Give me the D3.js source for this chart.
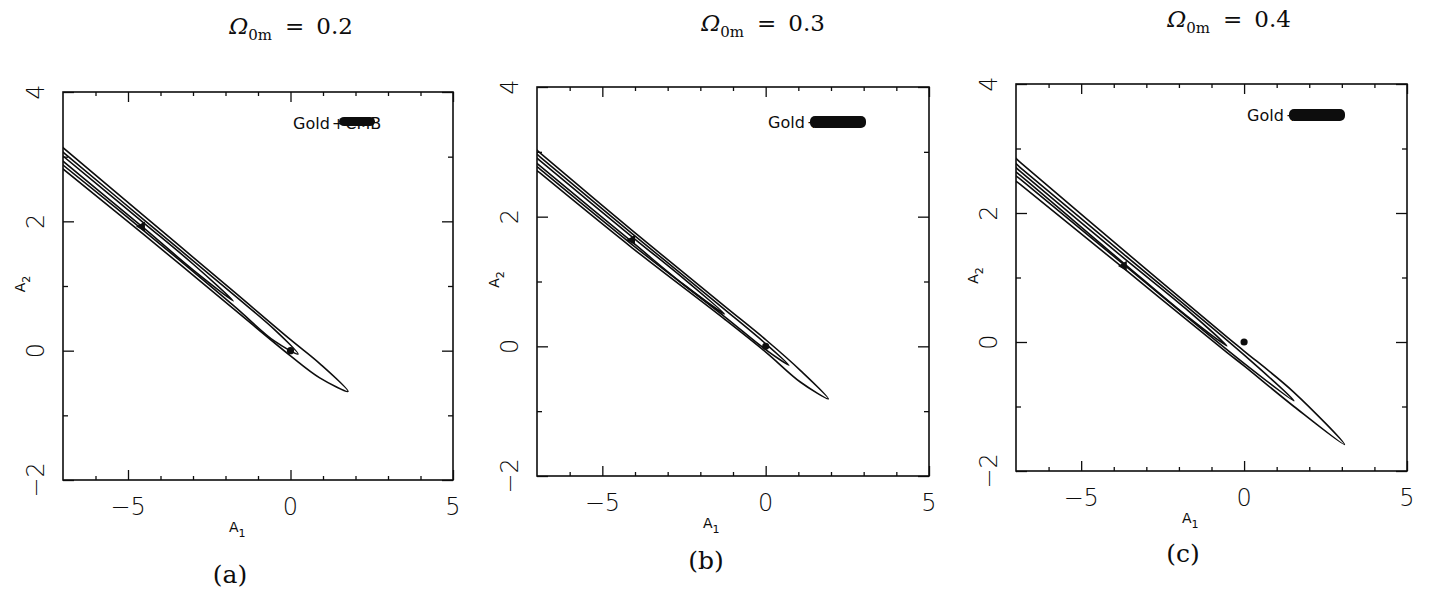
<!DOCTYPE html>
<html>
<head>
<meta charset="utf-8">
<script src="https://cdn.jsdelivr.net/npm/d3@7"></script>
<style>
  body { margin: 0; background: #fff; }
  svg { display: block; }
</style>
</head>
<body>
<svg id="chart" width="1429" height="591"></svg>
<script>
// ---- data ----
const panelIds = ['a', 'b', 'c'];
const omegaValues = ['0.2', '0.3', '0.4'];
const xMajorTicks = [-5, 0, 5];
const xMinorTicks = [-6, -4, -3, -2, -1, 1, 2, 3, 4];
const yMajorTicks = [-2, 0, 2, 4];
const yMinorTicks = [-1, 1, 3];

// contours: upper edge (left->right), tip, lower edge (right->left), in (A1, A2)
const contoursA = [
  { upper: [[-7.4, 3.31], [-7, 3.14], [-4.5, 2.08], [-1.76, 0.92], [0, 0.17], [0.9, -0.2]],
    tip: [1.77, -0.63],
    lower: [[0.9, -0.42], [0, -0.08], [-1.76, 0.65], [-4.5, 1.79], [-7, 2.81], [-7.4, 2.97]] },
  { upper: [[-7.4, 3.24], [-7, 3.07], [-4.5, 2.02], [-1.76, 0.87], [-0.5, 0.33]],
    tip: [0.23, -0.05],
    lower: [[-0.5, 0.15], [-1.76, 0.7], [-4.5, 1.85], [-7, 2.87], [-7.4, 3.03]] },
  { upper: [[-7.4, 3.18], [-7, 3.01], [-4.5, 1.97], [-3, 1.34]],
    tip: [-1.76, 0.77],
    lower: [[-3, 1.25], [-4.5, 1.89], [-7, 2.93], [-7.4, 3.1]] }
];
const contoursB = [
  { upper: [[-7.4, 3.19], [-6.9, 2.98], [-4.09, 1.79], [-1.26, 0.62], [0.03, 0.09], [1.06, -0.37]],
    tip: [1.92, -0.81],
    lower: [[1.06, -0.55], [0.03, -0.1], [-1.26, 0.42], [-4.09, 1.52], [-6.9, 2.67], [-7.4, 2.88]] },
  { upper: [[-7.4, 3.13], [-6.9, 2.92], [-4.09, 1.74], [-1.26, 0.57], [0, 0.04]],
    tip: [0.71, -0.29],
    lower: [[0, -0.05], [-1.26, 0.46], [-4.09, 1.57], [-6.9, 2.73], [-7.4, 2.94]] },
  { upper: [[-7.4, 3.07], [-6.9, 2.86], [-4.09, 1.69], [-2.5, 1.04]],
    tip: [-1.26, 0.5],
    lower: [[-2.5, 0.95], [-4.09, 1.61], [-6.9, 2.78], [-7.4, 2.99]] }
];
const contoursC = [
  { upper: [[-7.4, 3.01], [-6.86, 2.78], [-3.69, 1.42], [-0.53, 0.08], [0, -0.14], [1.53, -0.78]],
    tip: [3.08, -1.59],
    lower: [[1.53, -1.0], [0, -0.37], [-0.53, -0.16], [-3.69, 1.14], [-6.86, 2.44], [-7.4, 2.66]] },
  { upper: [[-7.4, 2.93], [-6.86, 2.7], [-3.69, 1.36], [0, -0.2]],
    tip: [1.53, -0.91],
    lower: [[0, -0.33], [-3.69, 1.2], [-6.86, 2.52], [-7.4, 2.74]] },
  { upper: [[-7.4, 2.87], [-6.86, 2.64], [-3.69, 1.3], [-1.8, 0.52]],
    tip: [-0.53, -0.06],
    lower: [[-1.8, 0.42], [-3.69, 1.22], [-6.86, 2.58], [-7.4, 2.8]] }
];
const contourSets = [contoursA, contoursB, contoursC];
const bestFit = [[-4.57, 1.92], [-4.09, 1.64], [-3.69, 1.18]];
const lcdmPoint = [0, 0];

// ---- layout ----
const frames = [
  { x: 63, y: 92, w: 390, h: 388, title: [291, 34], caption: [230, 583], legend: [293, 123] },
  { x: 537, y: 87, w: 392, h: 389, title: [763, 31], caption: [706, 569], legend: [768, 122] },
  { x: 1016, y: 84, w: 391, h: 387, title: [1229, 27], caption: [1183, 562], legend: [1247, 115] }
];

const svg = d3.select('#chart');
const ink = '#0d0d0d';

const line = d3.line()
  .x(d => d[0])
  .y(d => d[1])
  .curve(d3.curveCatmullRomClosed.alpha(0.5));

frames.forEach((f, i) => {
  const x = d3.scaleLinear().domain([-7, 5]).range([0, f.w]);
  const y = d3.scaleLinear().domain([-2, 4]).range([f.h, 0]);
  const g = svg.append('g').attr('transform', `translate(${f.x},${f.y})`);

  svg.append('clipPath').attr('id', 'clip' + i)
    .append('rect').attr('width', f.w).attr('height', f.h);

  // contours
  const plot = g.append('g').attr('clip-path', `url(#clip${i})`);
  contourSets[i].forEach(c => {
    const pts = c.upper.concat([c.tip], c.lower).map(p => [x(p[0]), y(p[1])]);
    plot.append('path')
      .attr('d', line(pts))
      .attr('fill', 'none')
      .attr('stroke', ink)
      .attr('stroke-width', 1.6);
  });

  // best fit marker and LCDM point
  plot.append('path')
    .attr('d', d3.symbol(d3.symbolTriangle, 45)())
    .attr('transform', `translate(${x(bestFit[i][0])},${y(bestFit[i][1])}) rotate(-90)`)
    .attr('fill', ink);
  plot.append('circle')
    .attr('cx', x(lcdmPoint[0])).attr('cy', y(lcdmPoint[1]))
    .attr('r', 3.6).attr('fill', ink);

  // ticks (inward, all four sides)
  const tickAxes = [
    [d3.axisBottom(x).tickValues(xMinorTicks).tickSize(-4), `translate(0,${f.h})`],
    [d3.axisBottom(x).tickValues(xMajorTicks).tickSize(-10), `translate(0,${f.h})`],
    [d3.axisTop(x).tickValues(xMinorTicks).tickSize(-4), null],
    [d3.axisTop(x).tickValues(xMajorTicks).tickSize(-10), null],
    [d3.axisLeft(y).tickValues(yMinorTicks).tickSize(-5), null],
    [d3.axisLeft(y).tickValues(yMajorTicks).tickSize(-11), null],
    [d3.axisRight(y).tickValues(yMinorTicks).tickSize(-5), `translate(${f.w},0)`],
    [d3.axisRight(y).tickValues(yMajorTicks).tickSize(-11), `translate(${f.w},0)`]
  ];
  tickAxes.forEach(([ax, tr]) => {
    const a = g.append('g').call(ax.tickFormat(''));
    if (tr) a.attr('transform', tr);
    a.select('.domain').remove();
    a.selectAll('line').attr('stroke', ink).attr('stroke-width', 1.3);
  });

  // frame
  g.append('rect')
    .attr('width', f.w).attr('height', f.h)
    .attr('fill', 'none').attr('stroke', ink).attr('stroke-width', 1.6);

  // tick labels
  const fmt = d3.format('d');
  g.append('g').selectAll('text').data(xMajorTicks).join('text')
    .attr('x', d => x(d)).attr('y', f.h + 27)
    .attr('text-anchor', 'middle').attr('dominant-baseline', 'central')
    .style('font-family', '"DejaVu Sans", sans-serif').style('font-weight', 200)
    .style('font-size', '24px').attr('fill', ink)
    .text(d => fmt(d));
  g.append('g').selectAll('text').data(yMajorTicks).join('text')
    .attr('transform', d => `translate(-27,${y(d)}) rotate(-90)`)
    .attr('text-anchor', 'middle').attr('dominant-baseline', 'central')
    .style('font-family', '"DejaVu Sans", sans-serif').style('font-weight', 200)
    .style('font-size', '24px').attr('fill', ink)
    .text(d => fmt(d));

  // axis titles
  const a1 = g.append('text')
    .attr('x', 166).attr('y', f.h + 52)
    .style('font-family', '"DejaVu Sans", sans-serif').style('font-size', '14px').attr('fill', ink);
  a1.append('tspan').text('A');
  a1.append('tspan').attr('dy', 5).style('font-size', '11px').text('1');

  const a2 = g.append('text')
    .attr('transform', `translate(-38,${f.h / 2 - 2}) rotate(-90)`)
    .attr('text-anchor', 'middle')
    .style('font-family', '"DejaVu Sans", sans-serif').style('font-size', '14px').attr('fill', ink);
  a2.append('tspan').text('A');
  a2.append('tspan').attr('dy', 5).style('font-size', '11px').text('2');

  // legend: "Gold+CMB" with the "+CMB" part blotted out as in the scan
  const lg = svg.append('g').attr('transform', `translate(${f.legend[0]},${f.legend[1]})`);
  const lt = lg.append('text')
    .attr('dominant-baseline', 'central')
    .style('font-family', '"DejaVu Sans", sans-serif').style('font-size', '16px').attr('fill', ink);
  lt.append('tspan').text('Gold');
  lt.append('tspan').attr('dx', 2).text('+CMB');
  lg.append('rect')
    .attr('x', i === 0 ? 46 : 42).attr('y', i === 0 ? -6 : -6)
    .attr('width', i === 0 ? 36 : 56).attr('height', i === 0 ? 9 : 12)
    .attr('rx', 5).attr('fill', ink);

  // panel title
  const t = svg.append('text')
    .attr('x', f.title[0]).attr('y', f.title[1])
    .attr('text-anchor', 'middle')
    .style('font-family', '"DejaVu Serif", serif').style('font-size', '23px').attr('fill', ink);
  t.append('tspan').style('font-style', 'italic').text('Ω');
  t.append('tspan').attr('dy', 6).style('font-size', '15px').text('0m');
  t.append('tspan').attr('dy', -6).attr('dx', 13).text('=');
  t.append('tspan').attr('dx', 12).text(omegaValues[i]);

  // caption
  svg.append('text')
    .attr('x', f.caption[0]).attr('y', f.caption[1])
    .attr('text-anchor', 'middle')
    .style('font-family', '"DejaVu Serif", serif').style('font-size', '25px').attr('fill', ink)
    .text(`(${panelIds[i]})`);
});
</script>
</body>
</html>
